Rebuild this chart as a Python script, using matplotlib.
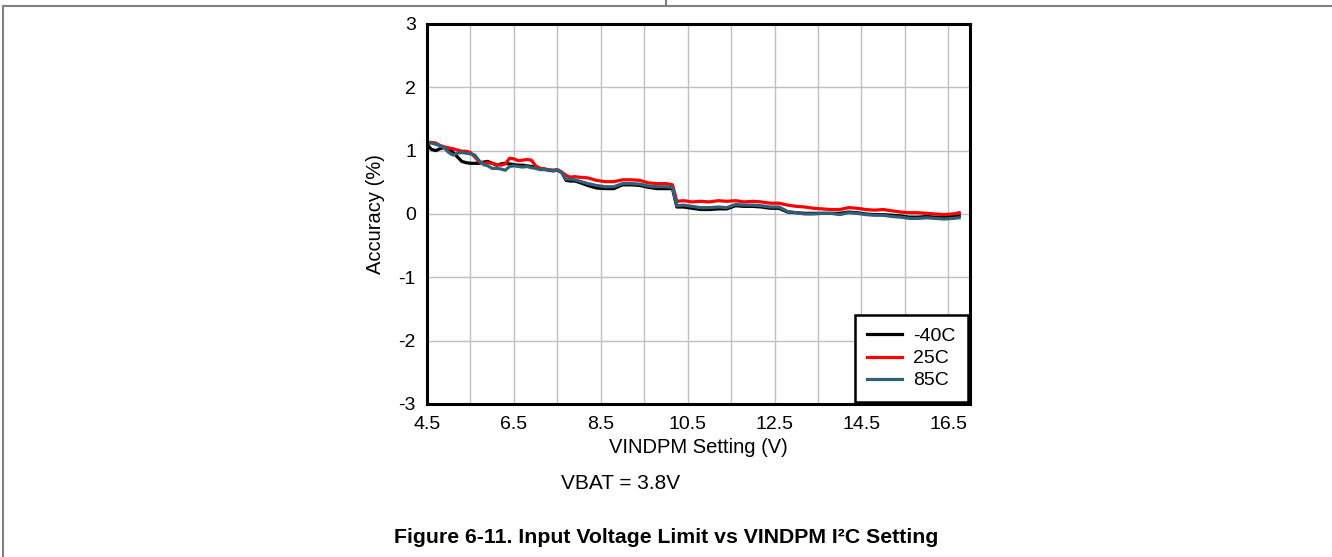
import numpy as np
import matplotlib
matplotlib.use("Agg")
import matplotlib.pyplot as plt
from matplotlib.lines import Line2D

plt.rcParams["font.family"] = ["Liberation Sans", "DejaVu Sans"]
plt.rcParams["axes.unicode_minus"] = False

# --- DATA ---
vindpm = [4.5, 4.6, 4.7, 4.8, 4.9, 5.0, 5.1, 5.2, 5.3, 5.4, 5.5, 5.6, 5.7, 5.8, 5.9,
          6.0, 6.1, 6.2, 6.3, 6.4, 6.5, 6.6, 6.7, 6.8, 6.9, 7.0, 7.1, 7.2, 7.3, 7.4,
          7.5, 7.6, 7.7, 7.8, 7.9, 8.0, 8.2, 8.4, 8.6, 8.8, 9.0, 9.2, 9.4, 9.6, 9.8,
          10.0, 10.15, 10.25, 10.4, 10.6, 10.8, 11.0, 11.2, 11.4, 11.6, 11.8, 12.0,
          12.2, 12.4, 12.6, 12.8, 13.0, 13.2, 13.4, 13.6, 13.8, 14.0, 14.2, 14.4,
          14.6, 14.8, 15.0, 15.2, 15.4, 15.6, 15.8, 16.0, 16.2, 16.4, 16.6, 16.75]

acc_m40 = [1.10, 1.02, 1.00, 1.03, 1.05, 1.04, 0.97, 0.90, 0.83, 0.81, 0.80, 0.80, 0.80, 0.82, 0.83,
           0.80, 0.77, 0.79, 0.80, 0.79, 0.78, 0.77, 0.77, 0.76, 0.75, 0.74, 0.72, 0.71, 0.69, 0.68,
           0.69, 0.66, 0.53, 0.52, 0.52, 0.50, 0.45, 0.41, 0.40, 0.40, 0.46, 0.46, 0.45, 0.42, 0.40,
           0.40, 0.40, 0.11, 0.11, 0.09, 0.07, 0.07, 0.08, 0.08, 0.13, 0.12, 0.12,
           0.11, 0.09, 0.09, 0.03, 0.02, 0.01, 0.01, 0.01, 0.01, 0.01, 0.03, 0.02,
           0.00, -0.01, -0.01, -0.02, -0.03, -0.05, -0.05, -0.04, -0.05, -0.05, -0.04, -0.03]

acc_25 = [1.13, 1.13, 1.12, 1.08, 1.06, 1.04, 1.03, 1.01, 0.99, 0.99, 0.97, 0.90, 0.82, 0.80, 0.81,
          0.80, 0.78, 0.77, 0.79, 0.88, 0.87, 0.84, 0.85, 0.86, 0.85, 0.76, 0.72, 0.71, 0.70, 0.69,
          0.70, 0.66, 0.61, 0.58, 0.59, 0.58, 0.57, 0.53, 0.51, 0.51, 0.54, 0.54, 0.53, 0.49, 0.48,
          0.48, 0.46, 0.20, 0.21, 0.19, 0.20, 0.19, 0.21, 0.20, 0.21, 0.19, 0.20,
          0.19, 0.17, 0.17, 0.14, 0.12, 0.11, 0.09, 0.08, 0.07, 0.07, 0.10, 0.09,
          0.07, 0.06, 0.07, 0.05, 0.03, 0.02, 0.02, 0.01, 0.00, -0.01, 0.00, 0.02]

acc_85 = [1.11, 1.12, 1.10, 1.08, 1.04, 0.97, 0.93, 0.96, 0.97, 0.96, 0.95, 0.93, 0.84, 0.78, 0.76,
          0.72, 0.72, 0.71, 0.69, 0.75, 0.76, 0.75, 0.74, 0.75, 0.73, 0.72, 0.70, 0.70, 0.69, 0.69,
          0.69, 0.65, 0.55, 0.55, 0.54, 0.52, 0.48, 0.45, 0.43, 0.43, 0.48, 0.48, 0.47, 0.44, 0.43,
          0.43, 0.42, 0.13, 0.14, 0.12, 0.10, 0.10, 0.11, 0.10, 0.15, 0.14, 0.14,
          0.13, 0.11, 0.11, 0.04, 0.02, 0.00, 0.00, 0.01, 0.01, -0.01, 0.02, 0.01,
          -0.01, -0.02, -0.02, -0.04, -0.05, -0.07, -0.07, -0.06, -0.07, -0.08, -0.07, -0.06]

series_labels = ["-40C", "25C", "85C"]
series_colors = ["#000000", "#ff0000", "#2f6079"]

x_ticks = [4.5, 6.5, 8.5, 10.5, 12.5, 14.5, 16.5]
y_ticks = [-3, -2, -1, 0, 1, 2, 3]

# --- FIGURE ---
fig = plt.figure(figsize=(13.32, 5.57), dpi=100)
ax = fig.add_axes([0.3206, 0.2747, 0.4077, 0.6823])

for y, lab, col in zip([acc_m40, acc_25, acc_85], series_labels, series_colors):
    ax.plot(vindpm, y, color=col, lw=2.3, label=lab)

ax.set_xlim(4.5, 17.0)
ax.set_ylim(-3, 3)
ax.set_xticks(x_ticks)
ax.set_xticks(np.arange(5.5, 17.0, 2.0), minor=True)
ax.set_yticks(y_ticks)
ax.set_xticklabels([f"{t:.1f}" for t in x_ticks])
ax.grid(True, which="both", color="#c0c0c0", lw=1.0)
ax.set_axisbelow(True)
ax.tick_params(which="both", length=0, labelsize=14)
ax.tick_params(axis="x", pad=9)
ax.tick_params(axis="y", pad=8)
for s in ax.spines.values():
    s.set_linewidth(2.2)
    s.set_color("black")

ax.set_xlabel("VINDPM Setting (V)", fontsize=14.5, labelpad=3)
ax.set_ylabel("Accuracy (%)", fontsize=14.5, labelpad=10)

leg = ax.legend(loc="lower right", fontsize=14, frameon=True, fancybox=False,
                framealpha=1.0, borderaxespad=0.1, handlelength=1.8,
                labelspacing=0.23, borderpad=0.65, handletextpad=0.55)
leg.get_frame().set_edgecolor("black")
leg.get_frame().set_linewidth(1.8)

fig.text(0.466, 0.132, "VBAT = 3.8V", fontsize=15, ha="center", va="center")
fig.text(0.5, 0.035, "Figure 6-11. Input Voltage Limit vs VINDPM I\u00b2C Setting",
         fontsize=15.3, fontweight="bold", ha="center", va="center")

# page frame lines
frame_col = "#808080"
fig.add_artist(Line2D([0.0023, 1.0], [0.99, 0.99], color=frame_col, lw=1.5,
                      transform=fig.transFigure))
fig.add_artist(Line2D([0.0023, 0.0023], [0.0, 0.99], color=frame_col, lw=1.5,
                      transform=fig.transFigure))
fig.add_artist(Line2D([0.5, 0.5], [0.99, 1.0], color=frame_col, lw=1.5,
                      transform=fig.transFigure))

fig.savefig("out.png", dpi=100)
plt.close(fig)
